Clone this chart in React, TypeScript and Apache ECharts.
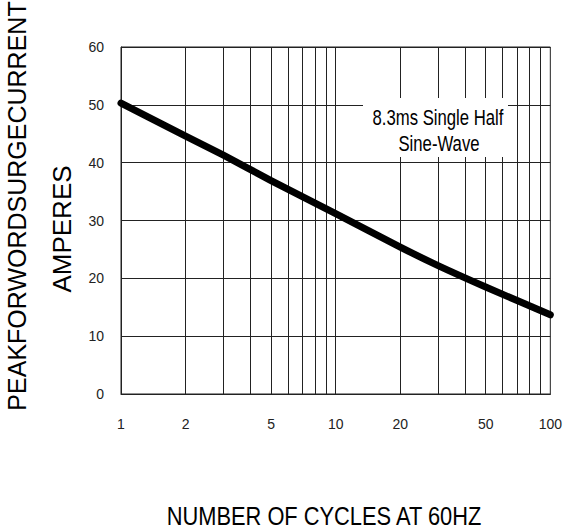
import React, { useEffect, useRef } from "react";
import * as echarts from "echarts";

const cycles = [1, 2, 3, 5, 10, 20, 30, 50, 100];
const amperes = [50.3, 44.6, 41.3, 36.9, 31.2, 25.4, 22.2, 18.5, 13.7];
const gridValues = [2, 3, 4, 5, 6, 7, 8, 9, 10, 20, 30, 40, 50, 60, 70, 80, 90];
const xLabelValues = [1, 2, 5, 10, 20, 50, 100];
const yTitleLine1 = "PEAKFORWORDSURGECURRENT";
const yTitleLine2 = "AMPERES";
const xTitle = "NUMBER OF CYCLES AT 60HZ";
const noteLines = ["8.3ms Single Half", "Sine-Wave"];

const FONT = "Liberation Sans, Arial, sans-serif";

export default function App() {
  const ref = useRef<HTMLDivElement>(null);
  useEffect(() => {
    if (!ref.current) return;
    const chart = echarts.init(ref.current, null, { renderer: "svg" });
    chart.setOption({
      animation: false,
      backgroundColor: "#fff",
      grid: {
        left: 121,
        right: 12,
        top: 47,
        bottom: 138,
        show: true,
        borderColor: "#222",
        borderWidth: 1,
      },
      xAxis: {
        type: "log",
        logBase: 10,
        min: 1,
        max: 100,
        axisLine: { show: true, lineStyle: { color: "#222", width: 1 } },
        axisTick: { show: false },
        splitLine: { show: false },
        axisLabel: {
          show: true,
          customValues: xLabelValues,
          fontFamily: FONT,
          fontSize: 14,
          color: "#222",
          margin: 23,
        },
      },
      yAxis: {
        type: "value",
        min: 0,
        max: 60,
        interval: 10,
        axisLine: { show: true, lineStyle: { color: "#222", width: 1 } },
        axisTick: { show: false },
        splitLine: { show: true, lineStyle: { color: "#222", width: 1 } },
        axisLabel: {
          fontFamily: FONT,
          fontSize: 14,
          color: "#222",
          margin: 17,
        },
      },
      series: [
        {
          type: "line",
          data: cycles.map((c, i) => [c, amperes[i]]),
          showSymbol: false,
          smooth: 0.2,
          lineStyle: { color: "#000", width: 7, cap: "round", join: "round" },
          z: 5,
          markLine: {
            silent: true,
            symbol: "none",
            label: { show: false },
            lineStyle: { color: "#222", width: 1, type: "solid" },
            data: gridValues.map((v) => ({ xAxis: v })),
            z: 1,
          },
        },
      ],
      graphic: [
        {
          type: "rect",
          z: 100,
          shape: { x: 363, y: 98, width: 145, height: 59 },
          style: { fill: "#fff" },
        },
        {
          type: "text",
          z: 101,
          x: 438,
          y: 117,
          scaleX: 0.76,
          style: {
            text: noteLines[0],
            font: `22px ${FONT}`,
            fill: "#000",
            textAlign: "center",
            textVerticalAlign: "middle",
          },
        },
        {
          type: "text",
          z: 101,
          x: 439,
          y: 143,
          scaleX: 0.76,
          style: {
            text: noteLines[1],
            font: `22px ${FONT}`,
            fill: "#000",
            textAlign: "center",
            textVerticalAlign: "middle",
          },
        },
        {
          type: "text",
          z: 101,
          x: 17,
          y: 206,
          rotation: Math.PI / 2,
          style: {
            text: yTitleLine1,
            font: `25px ${FONT}`,
            fill: "#000",
            textAlign: "center",
            textVerticalAlign: "middle",
          },
        },
        {
          type: "text",
          z: 101,
          x: 62,
          y: 229,
          rotation: Math.PI / 2,
          style: {
            text: yTitleLine2,
            font: `26px ${FONT}`,
            fill: "#000",
            textAlign: "center",
            textVerticalAlign: "middle",
          },
        },
        {
          type: "text",
          z: 101,
          x: 324,
          y: 516,
          scaleX: 0.84,
          style: {
            text: xTitle,
            font: `26px ${FONT}`,
            fill: "#000",
            textAlign: "center",
            textVerticalAlign: "middle",
          },
        },
      ],
    });
    return () => chart.dispose();
  }, []);
  return (
    <div
      ref={ref}
      style={{ position: "fixed", left: 0, top: 0, width: 565, height: 532 }}
    />
  );
}
